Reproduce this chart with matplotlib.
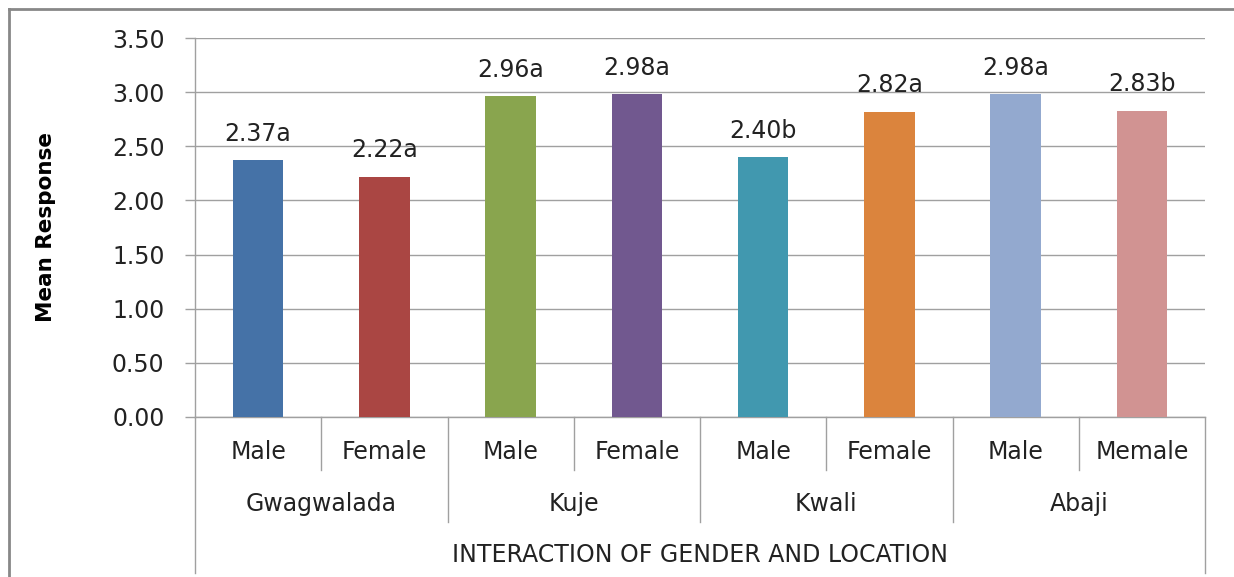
"""Mean response by gender and location (Excel-style clustered bar with two-level category axis)."""
import matplotlib
matplotlib.use("Agg")
import matplotlib.pyplot as plt
from matplotlib.lines import Line2D
from matplotlib.transforms import blended_transform_factory

# data
genders = ["Male", "Female", "Male", "Female", "Male", "Female", "Male", "Memale"]
locations = ["Gwagwalada", "Kuje", "Kwali", "Abaji"]
means = [2.37, 2.22, 2.96, 2.98, 2.40, 2.82, 2.98, 2.83]
letters = ["a", "a", "a", "a", "b", "a", "a", "b"]
colors = ["#4572A7", "#AA4643", "#89A54E", "#71588F",
          "#4198AF", "#DB843D", "#93A9CF", "#D19392"]
yticks = [0.0, 0.5, 1.0, 1.5, 2.0, 2.5, 3.0, 3.5]

W, H = 1234, 577
GRID = "#A0A0A0"
TXT = "#222222"
FS = 17

fig = plt.figure(figsize=(W / 100, H / 100), dpi=100)
x0, x1, y_top, y_zero = 195, 1205, 38, 417
ax = fig.add_axes([x0 / W, 1 - y_zero / H, (x1 - x0) / W, (y_zero - y_top) / H])

xs = list(range(len(means)))
ax.bar(xs, means, width=0.4, color=colors, zorder=3)
for x, v, l in zip(xs, means, letters):
    ax.annotate(f"{v:.2f}{l}", (x, v), xytext=(0, 14), textcoords="offset points",
                ha="center", va="baseline", fontsize=FS, color=TXT)

ax.set_xlim(-0.5, len(means) - 0.5)
ax.set_ylim(0, 3.5)
ax.set_yticks(yticks)
ax.set_yticklabels([f"{t:.2f}" for t in yticks], fontsize=FS, color=TXT)
ax.set_xticks([])
ax.tick_params(axis="y", length=7, width=1, color=GRID, pad=15)
ax.yaxis.grid(True, color=GRID, linewidth=1, zorder=0)
ax.set_axisbelow(True)
for sp in ("top", "right"):
    ax.spines[sp].set_visible(False)
for sp in ("left", "bottom"):
    ax.spines[sp].set_color(GRID)
    ax.spines[sp].set_linewidth(1)

ax.set_ylabel("Mean Response", fontsize=15.5, fontweight="bold", color="black")
ax.yaxis.set_label_coords((56 - x0) / (x1 - x0), 0.5)

# two-level category axis below the plot
tr = blended_transform_factory(ax.transData, ax.transAxes)
hpx = y_zero - y_top
def fy(py):
    return (y_zero - py) / hpx

for xb in (0.5, 2.5, 4.5, 6.5):
    ax.plot([xb, xb], [0, fy(470)], color=GRID, lw=1, transform=tr, clip_on=False)
for xb in (1.5, 3.5, 5.5):
    ax.plot([xb, xb], [0, fy(522)], color=GRID, lw=1, transform=tr, clip_on=False)
for xb in (-0.5, len(means) - 0.5):
    ax.plot([xb, xb], [0, fy(573)], color=GRID, lw=1, transform=tr, clip_on=False)

for x, g in zip(xs, genders):
    ax.text(x, fy(452), g, transform=tr, ha="center", va="center", fontsize=FS, color=TXT)
for i, loc in enumerate(locations):
    ax.text(2 * i + 0.5, fy(504), loc, transform=tr, ha="center", va="center",
            fontsize=FS, color=TXT)
ax.text(0.5, fy(555), "INTERACTION OF GENDER AND LOCATION", transform=ax.transAxes,
        ha="center", va="center", fontsize=FS, color=TXT)

# chart area border (left and top visible)
bx, by = 8.5 / W, 1 - 8.5 / H
fig.add_artist(Line2D([bx, bx], [0, by], transform=fig.transFigure, color="#888888", lw=2))
fig.add_artist(Line2D([bx, 1], [by, by], transform=fig.transFigure, color="#888888", lw=2))

fig.savefig("out.png", dpi=100)
